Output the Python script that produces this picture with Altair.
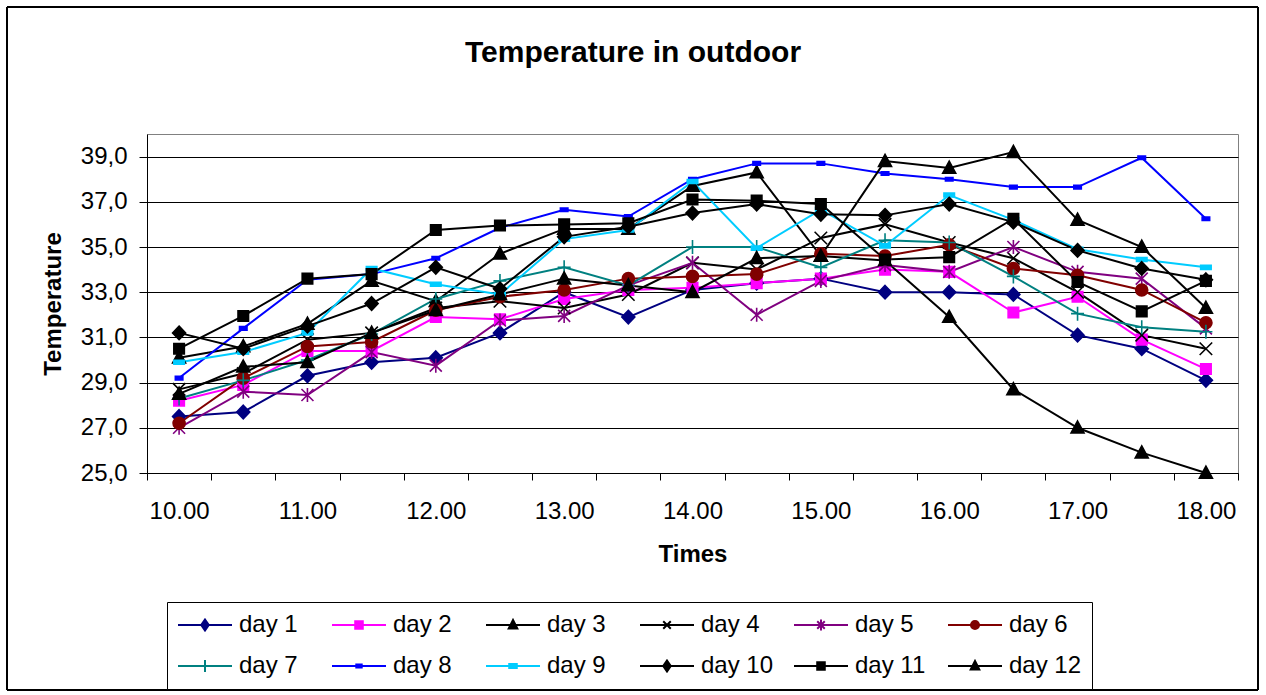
import altair as alt
import pandas as pd

times = ["10.00", "10.30", "11.00", "11.30", "12.00", "12.30", "13.00", "13.30", "14.00",
         "14.30", "15.00", "15.30", "16.00", "16.30", "17.00", "17.30", "18.00"]

days = ["day 1", "day 2", "day 3", "day 4", "day 5", "day 6",
        "day 7", "day 8", "day 9", "day 10", "day 11", "day 12"]

day1 = [27.5, 27.7, 29.3, 29.9, 30.1, 31.2, 33.0, 31.9, 33.1, 33.4, 33.6, 33.0, 33.0, 32.9, 31.1, 30.5, 29.1]
day2 = [28.2, 28.9, 30.4, 30.4, 31.9, 31.8, 32.7, 33.1, 33.2, 33.4, 33.6, 34.0, 33.9, 32.1, 32.8, 30.9, 29.6]
day3 = [30.1, 30.6, 31.6, 33.5, 32.6, 34.7, 35.8, 35.8, 37.7, 38.3, 34.6, 34.4, 31.9, 28.7, 27.0, 25.9, 25.0]
day4 = [28.7, 29.4, 30.9, 31.2, 32.3, 32.6, 32.3, 32.9, 34.3, 34.0, 35.4, 36.0, 35.2, 34.5, 33.0, 31.1, 30.5]
day5 = [27.0, 28.6, 28.45, 30.35, 29.75, 31.75, 31.95, 33.3, 34.3, 32.0, 33.5, 34.2, 33.9, 35.0, 33.9, 33.6, 31.4]
day6 = [27.2, 29.2, 30.6, 30.8, 32.2, 32.8, 33.1, 33.6, 33.7, 33.8, 34.7, 34.6, 35.1, 34.05, 33.75, 33.1, 31.65]
day7 = [28.3, 29.1, 30.0, 31.15, 32.7, 33.5, 34.1, 33.3, 35.0, 35.0, 34.1, 35.3, 35.2, 33.7, 32.05, 31.45, 31.25]
day8 = [29.2, 31.4, 33.55, 33.8, 34.5, 35.85, 36.65, 36.35, 38.0, 38.7, 38.7, 38.25, 38.0, 37.65, 37.65, 38.95, 36.25]
day9 = [29.9, 30.35, 31.2, 34.05, 33.35, 32.9, 35.35, 35.75, 37.9, 34.95, 36.65, 35.05, 37.3, 36.2, 34.9, 34.45, 34.1]
day10 = [31.2, 30.5, 31.5, 32.5, 34.1, 33.15, 35.45, 35.9, 36.5, 36.9, 36.45, 36.4, 36.9, 36.1, 34.85, 34.05, 33.55]
day11 = [30.5, 31.95, 33.6, 33.8, 35.75, 35.95, 36.0, 36.05, 37.1, 37.05, 36.9, 34.45, 34.55, 36.25, 33.45, 32.15, 33.5]
day12 = [28.5, 29.7, 29.9, 31.2, 32.2, 32.9, 33.6, 33.3, 33.0, 34.5, 34.6, 38.8, 38.5, 39.2, 36.2, 35.0, 32.3]

series = [day1, day2, day3, day4, day5, day6, day7, day8, day9, day10, day11, day12]

colors = ["#000080", "#FF00FF", "#000000", "#000000", "#800080", "#800000",
          "#008080", "#0000FF", "#00CCFF", "#000000", "#000000", "#000000"]

# marker paths for the plot (unit scale)
diamond = "M0,-1.35L1.3,0L0,1.35L-1.3,0Z"
square = "M-1.05,-1.05L1.05,-1.05L1.05,1.05L-1.05,1.05Z"
triangle = "M0,-1.35L1.3,1.05L-1.3,1.05Z"
xmark = "M-1.25,-1.25L1.25,1.25M-1.25,1.25L1.25,-1.25"
star = "M-1.2,-1.2L1.2,1.2M-1.2,1.2L1.2,-1.2M0,-1.4L0,1.4"
circle = "M-1.2,0A1.2,1.2,0,1,0,1.2,0A1.2,1.2,0,1,0,-1.2,0Z"
plus = "M-1.3,0L1.3,0M0,-1.4L0,1.4"
dash8 = "M-0.75,-0.35L0.75,-0.35L0.75,0.35L-0.75,0.35Z"
dash9 = "M-1.05,-0.4L1.05,-0.4L1.05,0.4L-1.05,0.4Z"
shapes = [diamond, square, triangle, xmark, star, circle, plus, dash8, dash9, diamond, square, triangle]

# legend symbols: a line segment with a small marker on it
leg_marks = [
    "M0,-0.2L0.14,0L0,0.2L-0.14,0Z",
    "M-0.14,-0.14L0.14,-0.14L0.14,0.14L-0.14,0.14Z",
    "M0,-0.19L0.16,0.13L-0.16,0.13Z",
    "M-0.14,-0.14L0.14,0.14M-0.14,0.14L0.14,-0.14",
    "M-0.14,-0.14L0.14,0.14M-0.14,0.14L0.14,-0.14M0,-0.2L0,0.2",
    "M-0.15,0A0.15,0.15,0,1,0,0.15,0A0.15,0.15,0,1,0,-0.15,0Z",
    "M0,-0.22L0,0.22",
    "M-0.1,-0.06L0.1,-0.06L0.1,0.06L-0.1,0.06Z",
    "M-0.14,-0.07L0.14,-0.07L0.14,0.07L-0.14,0.07Z",
    "M0,-0.2L0.14,0L0,0.2L-0.14,0Z",
    "M-0.14,-0.14L0.14,-0.14L0.14,0.14L-0.14,0.14Z",
    "M0,-0.19L0.16,0.13L-0.16,0.13Z",
]
leg_paths = ["M-1,0L1,0" + m for m in leg_marks]

rows = []
for d, vals in zip(days, series):
    for i, v in enumerate(vals):
        rows.append({"day": d, "idx": i, "time": times[i], "temp": v})
df = pd.DataFrame(rows)

FONT = "Liberation Sans"
time_list = "[" + ",".join(f"'{t}'" for t in times) + "]"
x_label_expr = (f"(datum.value + 0.5) % 2 == 0 && datum.value < 16 ? "
                f"{time_list}[datum.value + 0.5] : ''")

x_enc = alt.X(
    "idx:Q",
    scale=alt.Scale(domain=[-0.5, 16.5], nice=False, zero=False),
    axis=alt.Axis(
        title="Times", values=[i - 0.5 for i in range(18)], labelExpr=x_label_expr,
        labelOffset=32.1, labelOverlap=False, labelBound=False, labelFlush=False,
        grid=False, domainColor="black", domainWidth=1, tickColor="black", tickSize=7,
        labelFont=FONT, labelFontSize=24, labelColor="black", labelPadding=19,
        titleFont=FONT, titleFontSize=24, titleFontWeight="bold", titleColor="black",
        titlePadding=19,
    ),
)
y_enc = alt.Y(
    "temp:Q",
    scale=alt.Scale(domain=[25, 40], nice=False, zero=False),
    axis=alt.Axis(
        title="Temperature", values=list(range(25, 40, 2)),
        labelExpr="replace(format(datum.value, '.1f'), '.', ',')",
        grid=True, gridColor="black", gridWidth=1, domainColor="black",
        tickColor="black", tickSize=8, labelFont=FONT, labelFontSize=24,
        labelColor="black", labelPadding=12, titleFont=FONT, titleFontSize=24,
        titleFontWeight="bold", titleColor="black", titlePadding=15,
    ),
)

legend = alt.Legend(
    title=None, orient="none", legendX=20, legendY=468, direction="horizontal",
    columns=6, gridAlign="all", columnPadding=19, rowPadding=15, padding=10,
    strokeColor="black", fillColor="white", labelFont=FONT, labelFontSize=24,
    labelColor="black", labelOffset=6, symbolOffset=0, symbolSize=2916,
    symbolStrokeWidth=2, clipHeight=26, labelLimit=0, symbolOpacity=1,
)

color_enc = alt.Color("day:N", scale=alt.Scale(domain=days, range=colors), legend=None, sort=days)

frame = alt.Chart(df).mark_rect(fill="transparent", stroke="black", strokeWidth=1, clip=False).encode(
    x=alt.value(-140), x2=alt.value(1111), y=alt.value(-127), y2=alt.value(556)
)

lines = alt.Chart(df).mark_line(strokeWidth=2).encode(
    x=x_enc, y=y_enc, color=color_enc, order="idx:Q"
)

points = alt.Chart(df).mark_point(filled=True, size=100, strokeWidth=1.6, opacity=1).encode(
    x=x_enc, y=y_enc, color=color_enc,
    shape=alt.Shape("day:N", scale=alt.Scale(domain=days, range=shapes), legend=None),
    stroke=alt.Stroke("day:N", scale=alt.Scale(domain=days, range=colors), legend=None),
)

legend_layer = alt.Chart(df).transform_filter("false").mark_point(filled=True).encode(
    x=x_enc, y=y_enc,
    fill=alt.Fill("day:N", scale=alt.Scale(domain=days, range=colors), legend=legend),
    stroke=alt.Stroke("day:N", scale=alt.Scale(domain=days, range=colors), legend=legend),
    shape=alt.Shape("day:N", scale=alt.Scale(domain=days, range=leg_paths), legend=legend),
)

chart = alt.layer(frame, lines, points, legend_layer).resolve_scale(
    shape="independent", fill="independent", stroke="independent"
).properties(
    width=1091, height=339,
    title=alt.TitleParams("Temperature in outdoor", font=FONT, fontSize=30, fontWeight="bold",
                          color="black", anchor="middle", dx=-59.5, offset=-85,
                          baseline="alphabetic", frame="group"),
    autosize=alt.AutoSizeParams(type="none"),
    padding={"left": 147, "top": 134, "right": 28, "bottom": 222},
    background="white",
).configure_view(stroke="#808080", strokeWidth=1)

chart.save("out.html", embed_options={"renderer": "svg", "actions": False})
